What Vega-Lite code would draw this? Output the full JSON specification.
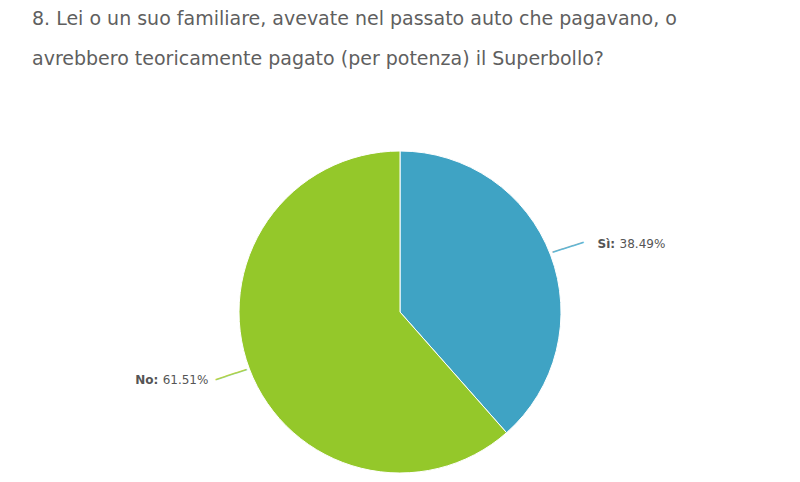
{
  "$schema": "https://vega.github.io/schema/vega-lite/v6.json",
  "description": "Superbollo - domanda 8",
  "data": {
    "values": [
      {"answer": "Sì", "pct": 38.49},
      {"answer": "No", "pct": 61.51}
    ]
  },
  "transform": [
    {"calculate": "datum.answer + ':'", "as": "lab"},
    {"calculate": "format(datum.pct, '.2f') + '%'", "as": "val"}
  ],
  "title": {
    "text": ["8. Lei o un suo familiare, avevate nel passato auto che pagavano, o", "avrebbero teoricamente pagato (per potenza) il Superbollo?"],
    "font": "DejaVu Sans",
    "fontSize": 19,
    "fontWeight": "normal",
    "color": "#5f5f5f",
    "lineHeight": 40,
    "anchor": "start",
    "frame": "group",
    "baseline": "top",
    "dx": 32,
    "dy": 8,
    "offset": 80
  },
  "background": "white",
  "padding": {"top": 10, "left": 0, "right": 0, "bottom": 0},
  "width": 800,
  "height": 342,
  "view": {"stroke": null},
  "encoding": {
    "theta": {"field": "pct", "type": "quantitative", "stack": true},
    "order": {"field": "answer", "sort": "descending"}
  },
  "layer": [
    {
      "mark": {"type": "arc", "outerRadius": 161, "stroke": "white", "strokeWidth": 1},
      "encoding": {
        "color": {
          "field": "answer",
          "type": "nominal",
          "scale": {"domain": ["Sì", "No"], "range": ["#3fa3c4", "#94c82a"]},
          "legend": null
        }
      }
    },
    {
      "mark": {"type": "text", "radius": 180, "angle": 342, "fontSize": 18, "font": "DejaVu Sans", "baseline": "middle", "align": "center", "opacity": 0.8},
      "encoding": {
        "text": {"value": "───"},
        "color": {"field": "answer", "type": "nominal", "legend": null}
      }
    },
    {
      "mark": {"type": "text", "radius": 192, "align": "left", "baseline": "middle", "dx": 18, "font": "DejaVu Sans", "fontSize": 12, "fontWeight": "bold", "color": "#555555"},
      "encoding": {
        "text": {"condition": {"test": "datum.answer === 'Sì'", "field": "lab"}, "value": ""}
      }
    },
    {
      "mark": {"type": "text", "radius": 192, "align": "left", "baseline": "middle", "dx": 40, "font": "DejaVu Sans", "fontSize": 12, "color": "#555555"},
      "encoding": {
        "text": {"condition": {"test": "datum.answer === 'Sì'", "field": "val"}, "value": ""}
      }
    },
    {
      "mark": {"type": "text", "radius": 192, "align": "right", "baseline": "middle", "dx": -62, "font": "DejaVu Sans", "fontSize": 12, "fontWeight": "bold", "color": "#555555"},
      "encoding": {
        "text": {"condition": {"test": "datum.answer === 'No'", "field": "lab"}, "value": ""}
      }
    },
    {
      "mark": {"type": "text", "radius": 192, "align": "right", "baseline": "middle", "dx": -12, "font": "DejaVu Sans", "fontSize": 12, "color": "#555555"},
      "encoding": {
        "text": {"condition": {"test": "datum.answer === 'No'", "field": "val"}, "value": ""}
      }
    }
  ]
}
